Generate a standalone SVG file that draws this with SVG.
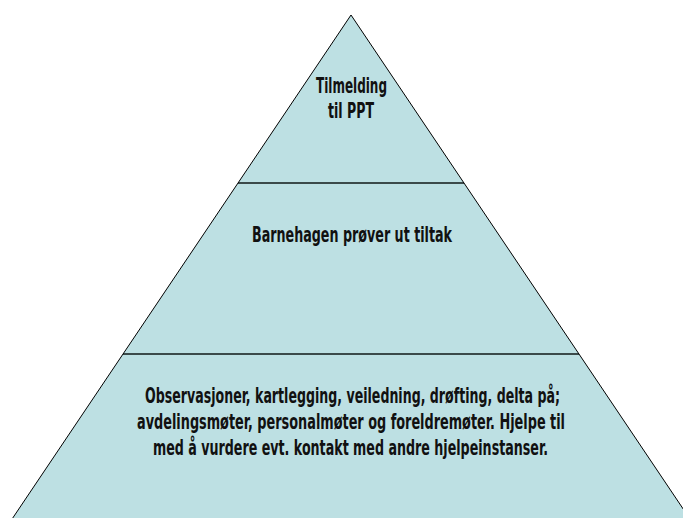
<svg xmlns="http://www.w3.org/2000/svg" width="683" height="518" viewBox="0 0 683 518">
<style>
.tier{fill:#bde0e3;stroke:none}
.edge{fill:none;stroke:#000;stroke-width:1}
.div{stroke:#3b4a4a;stroke-width:2.2}
.lbl{font-family:"DejaVu Sans Condensed","DejaVu Sans","Liberation Sans",sans-serif;font-weight:bold;font-size:22px;fill:#111;text-anchor:middle}
</style>
<rect width="683" height="518" fill="#fff"/>
<g id="tier-top">
<polygon class="tier" points="351,15 238,183 464,183"/>
<text class="lbl" transform="translate(351.5,93) scale(0.63,1)" x="0" y="0" textLength="112.7" lengthAdjust="spacingAndGlyphs">Tilmelding</text>
<text class="lbl" transform="translate(351,118) scale(0.63,1)" x="0" y="0" textLength="73" lengthAdjust="spacingAndGlyphs">til PPT</text>
</g>
<g id="tier-middle">
<polygon class="tier" points="238,183 123,354 579,354 464,183"/>
<text class="lbl" transform="translate(352,242) scale(0.63,1)" x="0" y="0" textLength="317.5" lengthAdjust="spacingAndGlyphs">Barnehagen prøver ut tiltak</text>
</g>
<g id="tier-bottom">
<polygon class="tier" points="123,354 4,531 698,531 579,354"/>
<text class="lbl" transform="translate(352.5,403) scale(0.63,1)" x="0" y="0" textLength="658.7" lengthAdjust="spacingAndGlyphs">Observasjoner, kartlegging, veiledning, drøfting, delta på;</text>
<text class="lbl" transform="translate(351,429) scale(0.63,1)" x="0" y="0" textLength="679.4" lengthAdjust="spacingAndGlyphs">avdelingsmøter, personalmøter og foreldremøter. Hjelpe til</text>
<text class="lbl" transform="translate(350.5,455) scale(0.63,1)" x="0" y="0" textLength="627" lengthAdjust="spacingAndGlyphs">med å vurdere evt. kontakt med andre hjelpeinstanser.</text>
</g>
<g id="connectors">
<line class="div" x1="238" y1="183" x2="464" y2="183"/>
<line class="div" x1="123" y1="354" x2="579" y2="354"/>
<polyline class="edge" points="4,531 351,15 698,531"/>
</g>
</svg>
